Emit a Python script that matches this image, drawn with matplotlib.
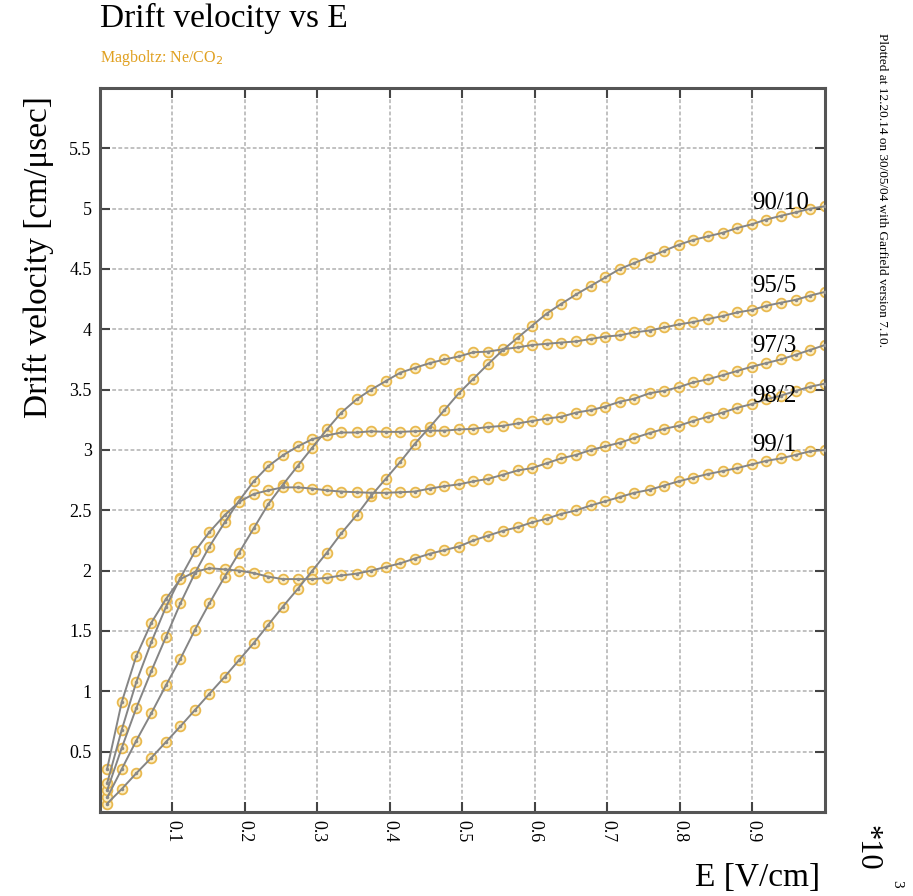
import matplotlib
matplotlib.use("Agg")
import matplotlib.pyplot as plt

plt.rcParams['font.family'] = ['Liberation Serif', 'DejaVu Serif']

# E field in units of 10^3 V/cm
e_field = [0.010, 0.030, 0.050, 0.071, 0.091, 0.111, 0.131, 0.151, 0.172, 0.192,
           0.212, 0.232, 0.252, 0.273, 0.293, 0.313, 0.333, 0.354, 0.374, 0.394,
           0.414, 0.434, 0.455, 0.475, 0.495, 0.515, 0.535, 0.556, 0.576, 0.596,
           0.616, 0.636, 0.657, 0.677, 0.697, 0.717, 0.737, 0.758, 0.778, 0.798,
           0.818, 0.838, 0.859, 0.879, 0.899, 0.919, 0.939, 0.960, 0.980, 1.000]

# drift velocity in cm/usec for each Ne/CO2 mixture
v_90_10 = [0.07, 0.19, 0.32, 0.45, 0.58, 0.71, 0.845, 0.98, 1.12, 1.26,
           1.40, 1.55, 1.70, 1.85, 2.00, 2.15, 2.31, 2.46, 2.62, 2.76,
           2.90, 3.05, 3.19, 3.33, 3.47, 3.59, 3.71, 3.83, 3.93, 4.03,
           4.13, 4.21, 4.29, 4.36, 4.43, 4.50, 4.55, 4.60, 4.65, 4.70,
           4.74, 4.77, 4.80, 4.84, 4.87, 4.91, 4.94, 4.97, 5.00, 5.02]
v_95_5 = [0.12, 0.355, 0.59, 0.82, 1.05, 1.27, 1.51, 1.73, 1.95, 2.15,
          2.35, 2.55, 2.71, 2.87, 3.02, 3.17, 3.31, 3.42, 3.50, 3.57,
          3.64, 3.68, 3.72, 3.75, 3.775, 3.81, 3.815, 3.835, 3.85, 3.87,
          3.88, 3.89, 3.90, 3.92, 3.94, 3.95, 3.975, 3.99, 4.015, 4.04,
          4.06, 4.085, 4.11, 4.14, 4.16, 4.195, 4.22, 4.245, 4.28, 4.31]
v_97_3 = [0.18, 0.53, 0.86, 1.17, 1.45, 1.73, 1.98, 2.20, 2.40, 2.58,
          2.74, 2.865, 2.955, 3.03, 3.09, 3.12, 3.145, 3.145, 3.155, 3.15,
          3.15, 3.155, 3.16, 3.16, 3.17, 3.175, 3.19, 3.20, 3.22, 3.24,
          3.26, 3.275, 3.31, 3.33, 3.36, 3.40, 3.425, 3.47, 3.49, 3.52,
          3.56, 3.585, 3.62, 3.655, 3.69, 3.72, 3.75, 3.79, 3.83, 3.87]
v_98_2 = [0.24, 0.68, 1.075, 1.41, 1.70, 1.94, 2.16, 2.32, 2.46, 2.57,
          2.635, 2.665, 2.69, 2.69, 2.68, 2.665, 2.655, 2.65, 2.645, 2.645,
          2.65, 2.655, 2.68, 2.70, 2.715, 2.74, 2.76, 2.795, 2.83, 2.85,
          2.89, 2.93, 2.96, 3.00, 3.03, 3.06, 3.10, 3.14, 3.175, 3.20,
          3.24, 3.275, 3.31, 3.35, 3.38, 3.42, 3.45, 3.49, 3.525, 3.55]
v_99_1 = [0.36, 0.91, 1.29, 1.57, 1.765, 1.93, 1.99, 2.02, 2.01, 2.00,
          1.98, 1.95, 1.93, 1.93, 1.93, 1.94, 1.96, 1.975, 2.00, 2.03,
          2.06, 2.10, 2.14, 2.17, 2.20, 2.25, 2.29, 2.33, 2.36, 2.40,
          2.43, 2.47, 2.50, 2.54, 2.575, 2.61, 2.645, 2.67, 2.705, 2.74,
          2.77, 2.80, 2.825, 2.85, 2.88, 2.91, 2.93, 2.96, 2.99, 3.00]

mixtures = ['90/10', '95/5', '97/3', '98/2', '99/1']
series = [v_90_10, v_95_5, v_97_3, v_98_2, v_99_1]
label_y = [5.0, 4.31, 3.81, 3.40, 2.99]

x_ticks = [0.1, 0.2, 0.3, 0.4, 0.5, 0.6, 0.7, 0.8, 0.9]
y_ticks = [0.5, 1, 1.5, 2, 2.5, 3, 3.5, 4, 4.5, 5, 5.5]

fig = plt.figure(figsize=(9.13, 8.96), dpi=100)
ax = fig.add_axes([0.1095, 0.0938, 0.7941, 0.808])

for name, vals, ly in zip(mixtures, series, label_y):
    ax.plot(e_field, vals, linestyle='none', marker='o', markersize=7,
            markerfacecolor='#fbeec8', markeredgecolor='#e9b94e',
            markeredgewidth=1.3, zorder=2)
    ax.plot(e_field, vals, color='#858585', linewidth=1.4, zorder=3)
    ax.plot(e_field, vals, linestyle='none', marker='.', markersize=3,
            color='#8a8a8a', zorder=4)
    ax.text(0.9, ly, name, fontsize=18, ha='left', va='baseline', zorder=5)

ax.set_xlim(0, 1)
ax.set_ylim(0, 6)
ax.set_xticks(x_ticks)
ax.set_yticks(y_ticks)
ax.set_xticklabels([str(t) for t in x_ticks], rotation=-90, fontsize=13)
ax.set_yticklabels([str(t) if t % 1 else str(int(t)) for t in y_ticks], fontsize=13)
ax.tick_params(direction='in', length=7, width=1.5, color='#444444',
               top=True, right=True, pad=6)
ax.grid(True, color='#b0b0b0', linestyle=(0, (2.5, 1.5)), linewidth=1.1)
for sp in ax.spines.values():
    sp.set_linewidth(2.2)
    sp.set_color('#555555')

fig.text(100 / 913, 1 - 18 / 896, 'Drift velocity vs E', fontsize=24,
         ha='left', va='center')
fig.text(100 / 913, 1 - 58 / 896, 'Magboltz: Ne/CO$_2$', fontsize=11.5,
         color='#e0a020', ha='left', va='center')
fig.text(38 / 913, 1 - 257 / 896, 'Drift velocity [cm/\u03bcsec]', fontsize=24,
         rotation=90, ha='center', va='center')
fig.text(820 / 913, 1 - 878 / 896, 'E [V/cm]', fontsize=24,
         ha='right', va='center')
fig.text(867 / 913, 1 - 825 / 896, '*10', fontsize=22, rotation=-90,
         ha='center', va='top')
fig.text(897 / 913, 1 - 880 / 896, '3', fontsize=11, rotation=-90,
         ha='center', va='top')
fig.text(882 / 913, 1 - 33 / 896,
         'Plotted at 12.20.14 on 30/05/04 with Garfield version 7.10.',
         fontsize=9.5, rotation=-90, ha='center', va='top')

fig.savefig('out.png', dpi=100)
